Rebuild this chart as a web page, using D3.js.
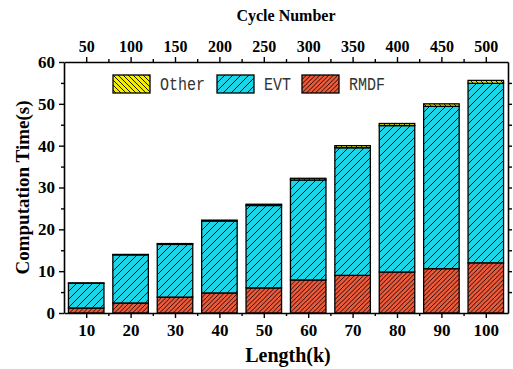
<!DOCTYPE html>
<html>
<head>
<meta charset="utf-8">
<script src="https://cdn.jsdelivr.net/npm/d3@7"></script>
<style>
  body { margin: 0; background: #fff; }
  svg { display: block; }
</style>
</head>
<body>
<svg id="chart" width="513" height="369"></svg>
<script>
const lengths = [10, 20, 30, 40, 50, 60, 70, 80, 90, 100];
const cycleTicks = [50, 100, 150, 200, 250, 300, 350, 400, 450, 500];
const rmdf = [1.2, 2.4, 3.8, 4.8, 6.0, 7.9, 9.0, 9.8, 10.6, 12.0];
const evt = [5.9, 11.5, 12.6, 17.2, 19.7, 23.9, 30.5, 35.0, 38.8, 42.9];
const other = [0.1, 0.1, 0.2, 0.2, 0.3, 0.4, 0.5, 0.5, 0.6, 0.7];
const yTicks = [0, 10, 20, 30, 40, 50, 60];

const svg = d3.select("#chart");
const mLeft = 64, mRight = 508, mTop = 62, mBottom = 313;
const serif = "'Liberation Serif', 'Times New Roman', serif";

const x = d3.scaleLinear().domain([5, 105]).range([mLeft, mRight]);
const y = d3.scaleLinear().domain([0, 60]).range([mBottom, mTop]);
const barW = x(8) - x(0);

// hatch patterns
const defs = svg.append("defs");
function hatch(id, color, s, back) {
    const p = defs.append("pattern")
        .attr("id", id)
        .attr("patternUnits", "userSpaceOnUse")
        .attr("width", s).attr("height", s);
    p.append("rect").attr("width", s).attr("height", s).attr("fill", color);
    const d = back
        ? `M0,0L${s},${s}M${-1},${s - 1}L1,${s + 1}M${s - 1},-1L${s + 1},1`
        : `M0,${s}L${s},0M-1,1L1,-1M${s - 1},${s + 1}L${s + 1},${s - 1}`;
    p.append("path").attr("d", d).attr("stroke", "#000").attr("stroke-width", 0.9);
}
hatch("pOther", "#f4ee00", 5, true);
hatch("pEvt", "#1cd6e8", 8, false);
hatch("pRmdf", "#f05a3a", 4.5, false);

const fills = { RMDF: "url(#pRmdf)", EVT: "url(#pEvt)", Other: "url(#pOther)" };

const rows = lengths.map((l, i) => ({ len: l, RMDF: rmdf[i], EVT: evt[i], Other: other[i] }));
const stacked = d3.stack().keys(["RMDF", "EVT", "Other"])(rows);

const layers = svg.append("g").selectAll("g")
    .data(stacked)
    .enter()
    .append("g")
    .attr("fill", d => fills[d.key]);

layers.selectAll("rect")
    .data(d => d)
    .enter()
    .append("rect")
    .attr("x", d => x(d.data.len) - barW / 2)
    .attr("y", d => y(d[1]))
    .attr("width", barW)
    .attr("height", d => y(d[0]) - y(d[1]))
    .attr("stroke", "#000")
    .attr("stroke-width", 1.3);

// axes
const axG = svg.append("g").attr("font-family", serif).attr("font-weight", "bold");

function styleAxis(g, size) {
    g.attr("font-family", serif).attr("font-size", size).attr("font-weight", "bold");
    g.select(".domain").attr("stroke-width", 1.6);
    g.selectAll(".tick line").attr("stroke-width", 1.4);
}
function minorTicks(g) {
    g.select(".domain").remove();
    g.selectAll(".tick line").attr("stroke-width", 1.4);
}

// bottom
axG.append("g")
    .attr("transform", `translate(0,${mBottom})`)
    .call(d3.axisBottom(x).tickValues(lengths).tickSize(5).tickSizeOuter(0).tickPadding(6))
    .call(styleAxis, 17);
axG.append("g")
    .attr("transform", `translate(0,${mBottom})`)
    .call(d3.axisBottom(x).tickValues(d3.range(15, 105, 10)).tickSize(3).tickFormat(""))
    .call(minorTicks);

// top (cycle number)
const xTop = d3.scaleLinear().domain([25, 525]).range([mLeft, mRight]);
axG.append("g")
    .attr("transform", `translate(0,${mTop})`)
    .call(d3.axisTop(xTop).tickValues(cycleTicks).tickSize(5).tickSizeOuter(0).tickPadding(5))
    .call(styleAxis, 16);
axG.append("g")
    .attr("transform", `translate(0,${mTop})`)
    .call(d3.axisTop(xTop).tickValues(d3.range(75, 525, 50)).tickSize(3).tickFormat(""))
    .call(minorTicks);

// left
axG.append("g")
    .attr("transform", `translate(${mLeft},0)`)
    .call(d3.axisLeft(y).tickValues(yTicks).tickSize(5).tickSizeOuter(0).tickPadding(4))
    .call(styleAxis, 17);
axG.append("g")
    .attr("transform", `translate(${mLeft},0)`)
    .call(d3.axisLeft(y).tickValues(d3.range(5, 60, 10)).tickSize(3).tickFormat(""))
    .call(minorTicks);

// right
axG.append("g")
    .attr("transform", `translate(${mRight},0)`)
    .call(d3.axisRight(y).tickValues(d3.range(5, 60, 5)).tickSize(4).tickSizeOuter(0).tickFormat(""))
    .call(styleAxis, 10);

// titles
axG.append("text")
    .attr("x", 288).attr("y", 362)
    .attr("text-anchor", "middle")
    .attr("font-size", 20)
    .text("Length(k)");

axG.append("text")
    .attr("x", 286).attr("y", 21)
    .attr("text-anchor", "middle")
    .attr("font-size", 16)
    .text("Cycle Number");

axG.append("text")
    .attr("transform", `translate(29,${(mTop + mBottom) / 2}) rotate(-90)`)
    .attr("text-anchor", "middle")
    .attr("font-size", 19)
    .text("Computation Time(s)");

// legend
const legendItems = [
    { key: "Other", x: 113 },
    { key: "EVT", x: 217 },
    { key: "RMDF", x: 302 }
];
const lg = svg.append("g").selectAll("g")
    .data(legendItems)
    .enter()
    .append("g")
    .attr("transform", d => `translate(${d.x},75)`);

lg.append("rect")
    .attr("width", 37).attr("height", 18)
    .attr("fill", d => fills[d.key])
    .attr("stroke", "#000")
    .attr("stroke-width", 1.3);

lg.append("text")
    .attr("x", 47).attr("y", 15)
    .attr("font-family", "'Liberation Mono', monospace")
    .attr("font-size", 18)
    .attr("fill", "#333")
    .attr("textLength", d => d.key.length * 9)
    .attr("lengthAdjust", "spacingAndGlyphs")
    .text(d => d.key);
</script>
</body>
</html>
